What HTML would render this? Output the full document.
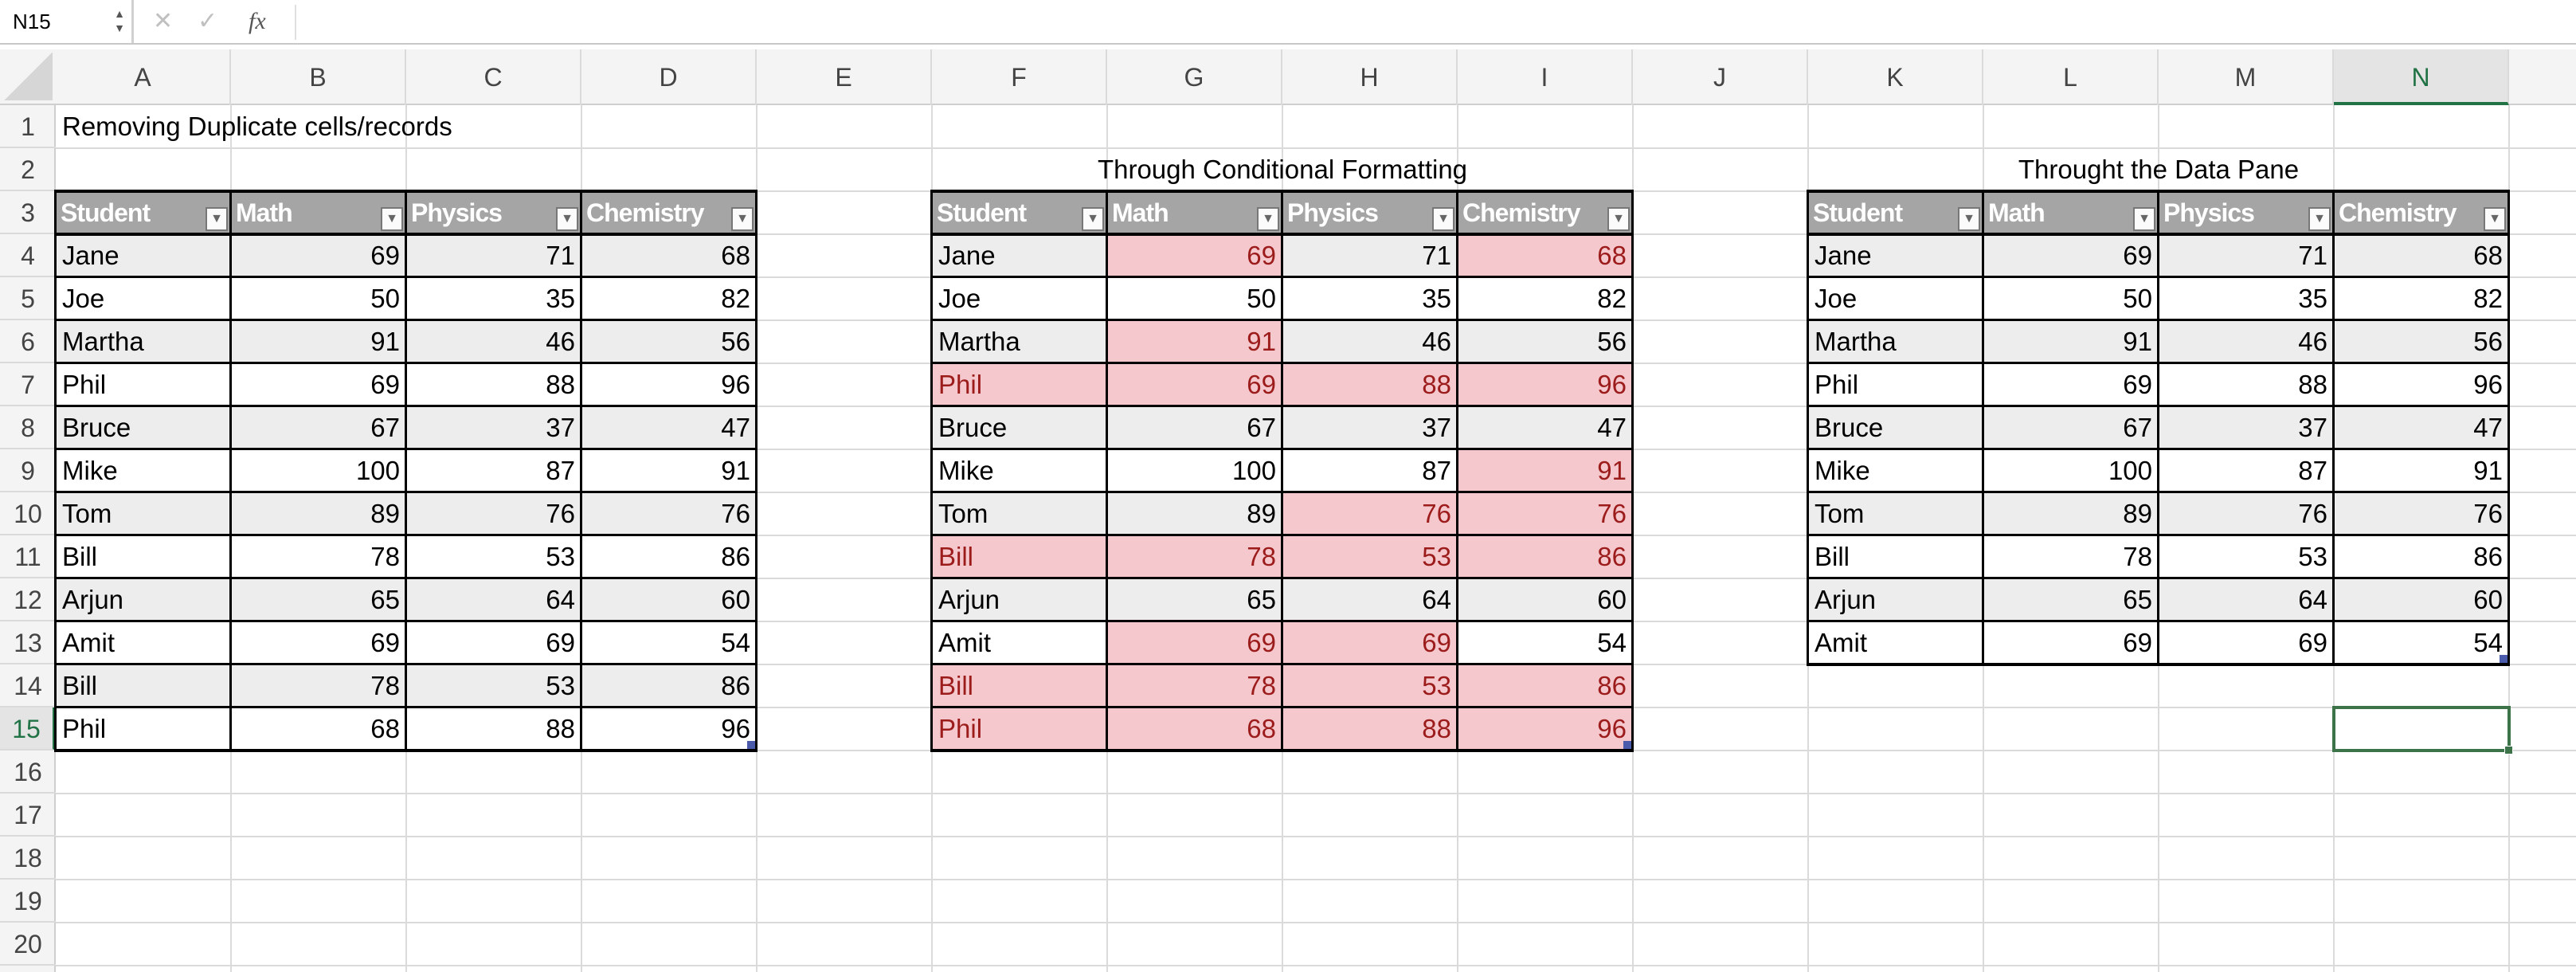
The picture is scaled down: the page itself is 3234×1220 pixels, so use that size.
<!DOCTYPE html>
<html><head><meta charset="utf-8">
<style>
html,body{margin:0;padding:0;width:3234px;height:1220px;overflow:hidden;background:#fff;font-family:"Liberation Sans",Arial,sans-serif;}
.a{position:absolute;box-sizing:border-box;}
.t{font-size:33px;line-height:54px;white-space:nowrap;overflow:hidden;padding:0 8px;}
</style></head>
<body>
<div id="root" class="a" style="left:0;top:0;width:3234px;height:1220px;"></div>
<script>
const students=["Jane","Joe","Martha","Phil","Bruce","Mike","Tom","Bill","Arjun","Amit","Bill","Phil"];
const math=[69,50,91,69,67,100,89,78,65,69,78,68];
const physics=[71,35,46,88,37,87,76,53,64,69,53,88];
const chemistry=[68,82,56,96,47,91,76,86,60,54,86,96];
const dedupCount=10;
// conditional formatting highlights per row: [student,math,physics,chemistry]
const highlights=[[0,1,0,1],[0,0,0,0],[0,1,0,0],[1,1,1,1],[0,0,0,0],[0,0,0,1],[0,0,1,1],[1,1,1,1],[0,0,0,0],[0,1,1,0],[1,1,1,1],[1,1,1,1]];
const colLetters=["A","B","C","D","E","F","G","H","I","J","K","L","M","N"];
const headers=["Student","Math","Physics","Chemistry"];

const root=document.getElementById('root');
const RH=70, CW=220, TOP=132, ROWH=54;
const cx=c=>RH+c*CW, ry=r=>TOP+(r-1)*ROWH;
function el(css,cls,html){const d=document.createElement('div');d.className='a '+(cls||'');d.style.cssText=css;if(html!==undefined)d.textContent=html;root.appendChild(d);return d;}

// formula bar
let fb=el('left:0;top:0;width:3234px;height:56px;background:#fff;border-bottom:2px solid #c8c8c8;');


let nb=el('left:0;top:0;width:168px;height:54px;border-right:3px solid #d0d0d0;font-size:26px;line-height:54px;padding-left:16px;','', 'N15');


let sp=el('left:140px;top:8px;width:20px;height:40px;font-size:14px;line-height:18px;color:#555;text-align:center;','', '▲\n▼');
sp.style.whiteSpace='pre';


let cxb=el('left:192px;top:0;height:54px;font-size:30px;line-height:54px;color:#c0c0c0;','', '✕');


let ok=el('left:248px;top:0;height:54px;font-size:30px;line-height:54px;color:#c0c0c0;','', '✓');


let fx=el('left:312px;top:0;height:54px;font-size:30px;line-height:54px;font-style:italic;font-family:\"Liberation Serif\",serif;color:#555;','', 'fx');


let fi=el('left:370px;top:6px;width:2860px;height:44px;border-left:2px solid #e0e0e0;');



// column header bar
let chb=el('left:0;top:62px;width:3234px;height:70px;background:#f4f4f4;border-bottom:2px solid #cfcfcf;');


let corner=el('left:4px;top:66px;width:62px;height:60px;background:linear-gradient(135deg,transparent 50%,#d6d6d6 50%);');


colLetters.forEach((L,i)=>{
  const sel=L==="N";
  const h=el(`left:${cx(i)}px;top:62px;width:${CW}px;height:70px;border-right:2px solid #dadada;text-align:center;font-size:32px;line-height:70px;color:${sel?'#217346':'#444'};${sel?'background:#e4e4e4;border-bottom:4px solid #217346;':''}`,'',L);
  
  
});
// row header
let rhb=el(`left:0;top:132px;width:${RH}px;height:1088px;background:#f4f4f4;border-right:2px solid #cfcfcf;`);


for(let r=1;r<=20;r++){
  const sel=r===15;
  const h=el(`left:0;top:${ry(r)}px;width:${RH}px;height:${ROWH}px;border-bottom:2px solid #dadada;text-align:center;font-size:32px;line-height:54px;color:${sel?'#217346':'#444'};${sel?'background:#e4e4e4;border-right:4px solid #217346;':''}`,'',String(r));
  
  
}
// gridlines
for(let c=0;c<14;c++){
  const g=el(`left:${cx(c+1)-1}px;top:132px;width:2px;height:1088px;background:#dadada;`);
  
  
}
for(let r=1;r<=20;r++){
  const g=el(`left:${RH}px;top:${ry(r+1)-1}px;width:3164px;height:2px;background:#dadada;`);
  
  
}

// title cells
let t1=el(`left:${cx(0)}px;top:${ry(1)}px;width:700px;height:54px;`,'t','Removing Duplicate cells/records');


let t2=el(`left:${cx(5)}px;top:${ry(2)}px;width:${CW*4}px;height:54px;text-align:center;`,'t','Through Conditional Formatting');


let t3=el(`left:${cx(10)}px;top:${ry(2)}px;width:${CW*4}px;height:54px;text-align:center;`,'t','Throught the Data Pane');



function table(c0,n,hl,prefix){
  const cols=[students,math,physics,chemistry];
  // header
  headers.forEach((h,j)=>{
    const d=el(`left:${cx(c0+j)}px;top:${ry(3)}px;width:${CW}px;height:${ROWH}px;background:#a5a5a5;color:#fff;font-weight:bold;font-size:32px;line-height:54px;padding:0 6px;letter-spacing:-1px;`,'',h);
    
    
    const b=el(`left:${cx(c0+j)+CW-32}px;top:${ry(3)+20}px;width:28px;height:30px;background:#fbfbfb;border:2px solid #777;font-size:16px;line-height:26px;text-align:center;color:#666;`,'','▼');
    
    
  });
  for(let i=0;i<n;i++){
    for(let j=0;j<4;j++){
      const pink=hl&&hl[i][j];
      const bg=pink?'#f5c8cd':(i%2===0?'#ededed':'#fff');
      const d=el(`left:${cx(c0+j)}px;top:${ry(4+i)}px;width:${CW}px;height:${ROWH}px;background:${bg};color:${pink?'#9c1b1b':'#000'};text-align:${j?'right':'left'};`,'t',String(cols[j][i]));
      
      
    }
  }
  // borders
  for(let j=0;j<=4;j++){
    const l=el(`left:${cx(c0+j)-2}px;top:${ry(3)-2}px;width:3px;height:${(n+1)*ROWH+4}px;background:#000;`);
    
    
  }
  for(let i=0;i<=n+1;i++){
    const l=el(`left:${cx(c0)-2}px;top:${ry(3+i)-2}px;width:${CW*4+3}px;height:${i<=1||i===n+1?4:3}px;background:#000;`);
    
    
  }
  const h=el(`left:${cx(c0+4)-12}px;top:${ry(4+n)-12}px;width:10px;height:10px;background:#4a5bab;`);
  
  
}
table(0,students.length,null,'original-table');
table(5,students.length,highlights,'formatted-table');
table(10,dedupCount,null,'deduplicated-table');

// selected cell N15
let s=el(`left:${cx(13)-2}px;top:${ry(15)-2}px;width:${CW+4}px;height:${ROWH+4}px;border:4px solid #3c7349;`);


let sh=el(`left:${cx(14)-6}px;top:${ry(16)-6}px;width:11px;height:11px;background:#3c7349;border:1px solid #fff;`);


</script>
</body></html>
